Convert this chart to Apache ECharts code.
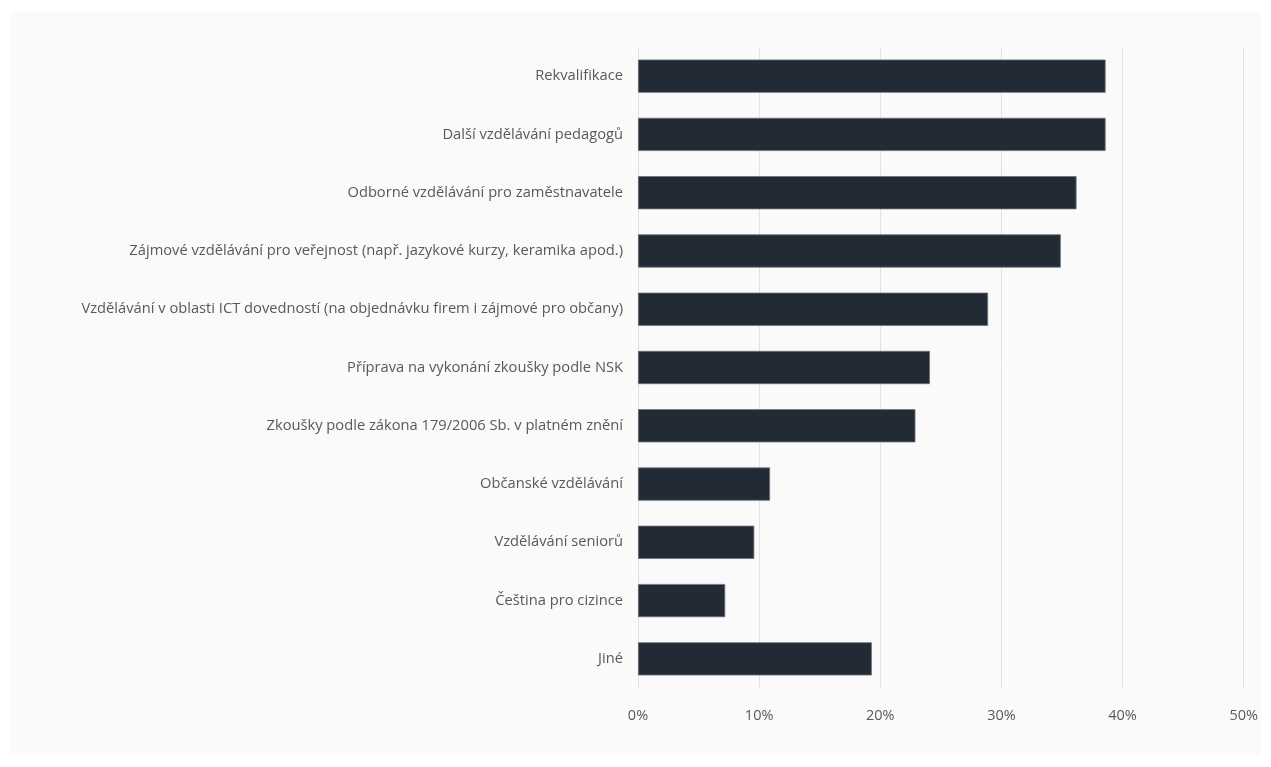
<!DOCTYPE html>
<html>
<head>
<meta charset="utf-8">
<script src="https://cdn.jsdelivr.net/npm/echarts@6/dist/echarts.min.js"></script>
<style>
html,body{margin:0;padding:0;background:#ffffff;}
#chart{position:absolute;left:10px;top:12px;width:1251px;height:743px;background:#fafafa;}
</style>
</head>
<body>
<div id="chart"></div>
<script>
const categories = [
  "Rekvalifikace",
  "Další vzdělávání pedagogů",
  "Odborné vzdělávání pro zaměstnavatele",
  "Zájmové vzdělávání pro veřejnost (např. jazykové kurzy, keramika apod.)",
  "Vzdělávání v oblasti ICT dovedností (na objednávku firem i zájmové pro občany)",
  "Příprava na vykonání zkoušky podle NSK",
  "Zkoušky podle zákona 179/2006 Sb. v platném znění",
  "Občanské vzdělávání",
  "Vzdělávání seniorů",
  "Čeština pro cizince",
  "Jiné"
];
const values = [38.6, 38.6, 36.2, 34.9, 28.9, 24.1, 22.9, 10.9, 9.6, 7.2, 19.3];
const xTicks = { min: 0, max: 50, interval: 10 };

const chart = echarts.init(document.getElementById('chart'));
chart.setOption({
  backgroundColor: '#fafafa',
  animation: false,
  grid: { left: 628, right: 14, top: 35, bottom: 67, containLabel: false },
  xAxis: {
    type: 'value',
    min: xTicks.min, max: xTicks.max, interval: xTicks.interval,
    axisLine: { show: false },
    axisTick: { show: false },
    splitLine: { show: true, lineStyle: { color: '#e2e2e2', width: 1 } },
    axisLabel: { formatter: '{value}%', color: '#595959', fontSize: 14.5, fontFamily: 'Open Sans', margin: 20 }
  },
  yAxis: {
    type: 'category',
    inverse: true,
    data: categories,
    axisLine: { show: false },
    axisTick: { show: false },
    splitLine: { show: false },
    axisLabel: { color: '#595959', fontSize: 14.7, fontFamily: 'Open Sans', margin: 15 }
  },
  series: [{
    type: 'bar',
    data: values,
    barCategoryGap: '43%',
    itemStyle: { color: '#222a35', borderColor: '#6b727c', borderWidth: 0.8 }
  }]
});
</script>
</body>
</html>
